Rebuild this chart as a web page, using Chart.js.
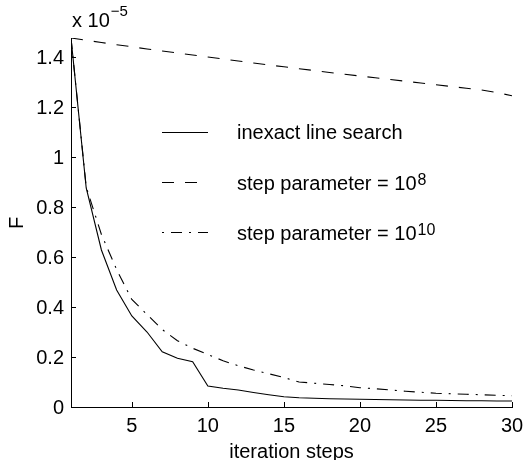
<!DOCTYPE html>
<html>
<head>
  <title>F vs iteration steps</title>
  <script src="https://cdn.jsdelivr.net/npm/chart.js"></script>
  <style>
    body { margin: 0; background: #fff; }
  </style>
</head>
<body>
  <canvas id="chart" width="524" height="460"></canvas>
  <script>
    // values of F in units of 1e-5
    const steps = [1, 2, 3, 4, 5, 6, 7, 8, 9, 10, 11, 12, 13, 14, 15, 16, 17, 18, 19, 20, 21, 22, 23, 24, 25, 26, 27, 28, 29, 30];
    const inexact = [1.476, 0.876, 0.628, 0.468, 0.364, 0.300, 0.221, 0.195, 0.181, 0.084, 0.075, 0.068, 0.058, 0.049, 0.041, 0.037, 0.035, 0.033, 0.032, 0.031, 0.030, 0.029, 0.028, 0.027, 0.027, 0.026, 0.025, 0.025, 0.024, 0.024];
    const param1e8 = [1.476, 1.467, 1.458, 1.449, 1.441, 1.432, 1.424, 1.416, 1.408, 1.400, 1.392, 1.384, 1.376, 1.368, 1.361, 1.353, 1.346, 1.338, 1.331, 1.324, 1.317, 1.310, 1.303, 1.296, 1.289, 1.282, 1.275, 1.268, 1.258, 1.245];
    const param1e10 = [1.476, 0.880, 0.690, 0.550, 0.430, 0.370, 0.310, 0.265, 0.235, 0.210, 0.185, 0.165, 0.148, 0.133, 0.118, 0.100, 0.095, 0.090, 0.085, 0.077, 0.073, 0.068, 0.063, 0.059, 0.055, 0.053, 0.051, 0.049, 0.047, 0.045];
    const xTicks = [5, 10, 15, 20, 25, 30];
    const yTicks = [0, 0.2, 0.4, 0.6, 0.8, 1, 1.2, 1.4];
    const yTickLabels = ['0', '0.2', '0.4', '0.6', '0.8', '1', '1.2', '1.4'];
    const legendLabels = [['inexact line search', ''], ['step parameter = 10', '8'], ['step parameter = 10', '10']];

    const FONT = 'Liberation Sans, Arial, sans-serif';
    const toPoints = ys => ys.map((y, i) => ({ x: steps[i], y: y }));

    const matlabBits = {
      id: 'matlabBits',
      afterDraw(chart) {
        const ctx = chart.ctx;
        const xs = chart.scales.x, ys = chart.scales.y;
        const area = chart.chartArea;
        ctx.save();
        ctx.strokeStyle = '#000';
        ctx.fillStyle = '#000';
        ctx.lineWidth = 1;
        // inward ticks and their labels
        ctx.beginPath();
        xTicks.forEach(v => {
          const px = Math.round(xs.getPixelForValue(v)) + 0.5;
          ctx.moveTo(px, area.bottom);
          ctx.lineTo(px, area.bottom - 5);
        });
        yTicks.forEach(v => {
          const py = Math.round(ys.getPixelForValue(v)) + 0.5;
          ctx.moveTo(area.left, py);
          ctx.lineTo(area.left + 5, py);
        });
        ctx.stroke();

        ctx.font = '20px ' + FONT;
        ctx.textAlign = 'center';
        ctx.textBaseline = 'alphabetic';
        xTicks.forEach(v => ctx.fillText(String(v), xs.getPixelForValue(v), 432));
        ctx.textAlign = 'right';
        ctx.textBaseline = 'middle';
        yTicks.forEach((v, i) => ctx.fillText(yTickLabels[i], 64, ys.getPixelForValue(v) + 1));

        // exponent label
        ctx.textBaseline = 'alphabetic';
        ctx.textAlign = 'left';
        ctx.font = '20px ' + FONT;
        ctx.fillText('x 10', 72, 27);
        const w = ctx.measureText('x 10').width;
        ctx.font = '15px ' + FONT;
        ctx.fillText('\u22125', 72 + w + 1, 16);

        // axis titles
        ctx.font = '20px ' + FONT;
        ctx.textAlign = 'center';
        ctx.fillText('iteration steps', (area.left + area.right) / 2, 458);
        ctx.save();
        ctx.translate(23, 223);
        ctx.rotate(-Math.PI / 2);
        ctx.fillText('F', 0, 0);
        ctx.restore();

        // legend
        const lineRows = [132, 182, 232];
        const textRows = [139, 190, 240];
        chart.data.datasets.forEach((ds, i) => {
          const y = lineRows[i] + 0.5;
          ctx.save();
          ctx.setLineDash(ds.borderDash || []);
          ctx.lineDashOffset = ds.legendOffset || 0;
          ctx.lineWidth = ds.borderWidth;
          ctx.beginPath();
          ctx.moveTo(162, y);
          ctx.lineTo(208, y);
          ctx.stroke();
          ctx.restore();
          ctx.textAlign = 'left';
          ctx.textBaseline = 'alphabetic';
          ctx.font = '20px ' + FONT;
          ctx.fillText(legendLabels[i][0], 237, textRows[i]);
          if (legendLabels[i][1]) {
            const tw = ctx.measureText(legendLabels[i][0]).width;
            ctx.font = '16px ' + FONT;
            ctx.fillText(legendLabels[i][1], 237 + tw + 1, textRows[i] - 5);
          }
        });
        ctx.restore();
      }
    };

    new Chart(document.getElementById('chart'), {
      type: 'line',
      data: {
        datasets: [{
          label: 'inexact line search',
          data: toPoints(inexact),
          borderColor: '#000',
          borderWidth: 1.1,
          pointRadius: 0,
          fill: false
        }, {
          label: 'step parameter = 10^8',
          data: toPoints(param1e8),
          borderColor: '#000',
          borderWidth: 1.1,
          borderDash: [12, 11],
          pointRadius: 0,
          fill: false
        }, {
          label: 'step parameter = 10^10',
          data: toPoints(param1e10),
          borderColor: '#000',
          borderWidth: 1.1,
          borderDash: [11, 7, 2, 7],
          legendOffset: 18,
          pointRadius: 0,
          fill: false
        }]
      },
      options: {
        responsive: false,
        animation: false,
        layout: { padding: { top: 38, right: 12, left: 0, bottom: 0 } },
        plugins: { legend: { display: false }, tooltip: { enabled: false } },
        elements: { line: { tension: 0 } },
        scales: {
          x: {
            type: 'linear',
            min: 1,
            max: 30,
            afterBuildTicks: s => { s.ticks = xTicks.map(v => ({ value: v })); },
            afterFit: s => { s.height = 53; },
            grid: { display: false, drawTicks: false },
            border: { display: true, color: '#000', width: 1 },
            ticks: { display: false }
          },
          y: {
            min: 0,
            max: 1.476,
            afterBuildTicks: s => { s.ticks = yTicks.map(v => ({ value: v })); },
            afterFit: s => { s.width = 71; },
            grid: { display: false, drawTicks: false },
            border: { display: true, color: '#000', width: 1 },
            ticks: { display: false }
          }
        }
      },
      plugins: [matlabBits]
    });
  </script>
</body>
</html>
